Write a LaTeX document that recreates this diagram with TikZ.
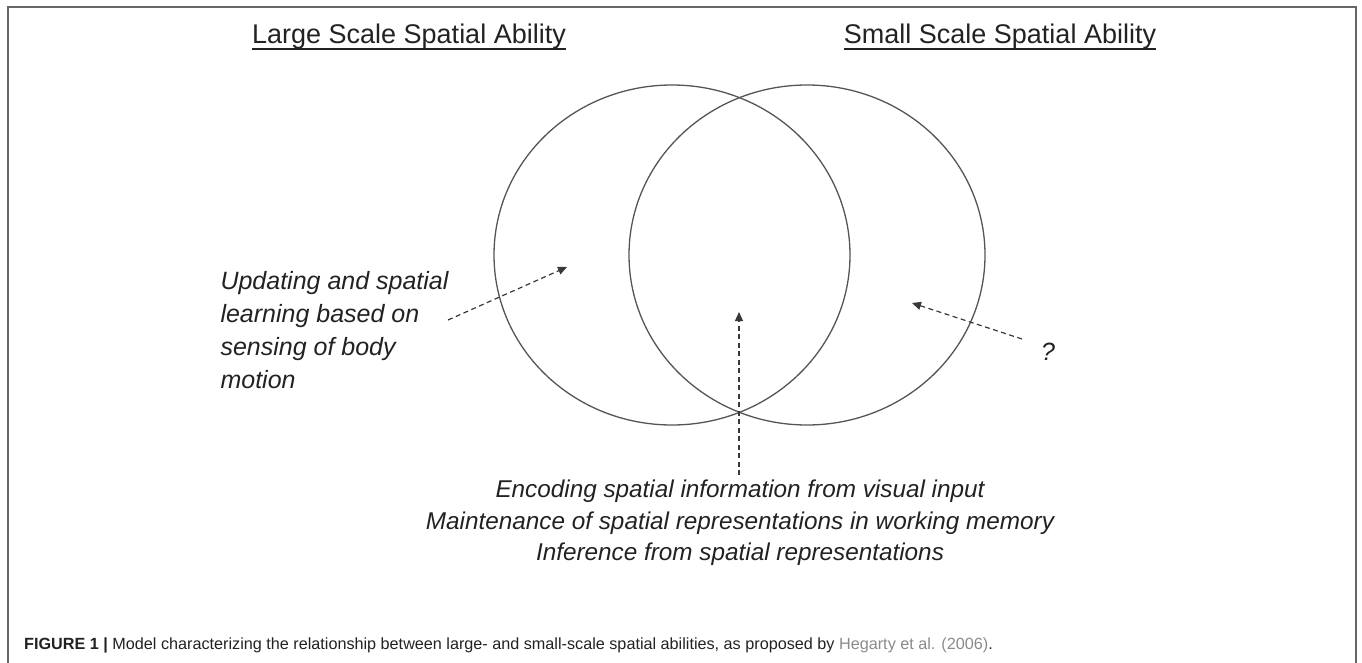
\documentclass[tikz,border=0pt]{standalone}
\usepackage{fontspec}
\setmainfont{Liberation Sans}
\usepackage{xcolor}
\usetikzlibrary{arrows.meta,shapes.geometric}
\definecolor{ink}{HTML}{222222}
\definecolor{ringgray}{HTML}{555555}
\definecolor{framegray}{HTML}{666666}
\definecolor{linkgray}{HTML}{8A8A8A}
\tikzstyle{ring}=[draw=ringgray, line width=1.3pt, ellipse, minimum width=356pt, minimum height=340pt, inner sep=0pt]
\tikzstyle{dash>}=[draw=ink!90, line width=1.2pt, dash pattern=on 5pt off 3.5pt, -{Triangle[length=9pt,width=8pt]}]
\tikzstyle{head}=[font=\fontsize{27}{31}\selectfont, text=ink, inner sep=0pt, anchor=base]
\tikzstyle{note}=[font=\itshape\fontsize{25}{33}\selectfont, text=ink]

\begin{document}
\begin{tikzpicture}[x=1pt,y=-1pt]
\useasboundingbox (0,0) rectangle (1362,663);
\draw[framegray, line width=2pt] (7.5,663) -- (7.5,7.5) -- (1355.5,7.5) -- (1355.5,663);
% titles
\node[head] (lss) at (409,44) {Large Scale Spatial Ability};
\node[head] (sss) at (1000,44) {Small Scale Spatial Ability};
\draw[ink, line width=1.6pt] ([yshift=-5pt]lss.base west) -- ([yshift=-5pt]lss.base east);
\draw[ink, line width=1.6pt] ([yshift=-5pt]sss.base west) -- ([yshift=-5pt]sss.base east);
% the two abilities
\node[ring] (lring) at (672,255) {};
\node[ring] (sring) at (807,255) {};
% labels
\node[note, align=left, anchor=west] (motion) at (217,330) {Updating and spatial\\learning based on\\sensing of body\\motion};
\node[note, align=center, font=\itshape\fontsize{24.3}{31.5}\selectfont] (visual) at (740,523) {Encoding spatial information from visual input\\Maintenance of spatial representations in working memory\\Inference from spatial representations};
\node[note] (unknown) at (1048,352) {?};
% arrows
\coordinate (m0) at (448,320);
\coordinate (m1) at (567,267);
\coordinate (v0) at (739,475);
\coordinate (v1) at (739,312);
\coordinate (u0) at (1022,339);
\coordinate (u1) at (912,303);
\draw[dash>] (m0) -- (m1);
\draw[dash>] (v0) -- (v1);
\draw[dash>] (u0) -- (u1);
% caption
\node[anchor=base west, inner sep=0pt, font=\fontsize{16.2}{19}\selectfont, text=ink] (cap) at (24,649) {\textbf{FIGURE 1 |} Model characterizing the relationship between large- and small-scale spatial abilities, as proposed by \textcolor{linkgray}{Hegarty et al. (2006)}.};
\end{tikzpicture}
\end{document}
